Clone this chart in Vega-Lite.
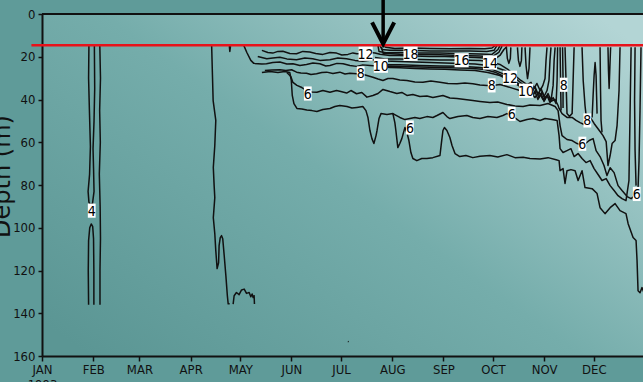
{
  "$schema": "https://vega.github.io/schema/vega-lite/v6.json",
  "width": 601,
  "height": 342,
  "autosize": {"type": "none"},
  "padding": {"left": 42, "top": 14, "right": 0, "bottom": 26},
  "background": "#5f9b99",
  "config": {
    "view": {
      "stroke": null,
      "fill": {"gradient": "linear", "x1": 0, "y1": 0.9, "x2": 1, "y2": 0.1,
        "stops": [{"offset": 0, "color": "#5b9694"}, {"offset": 0.5, "color": "#75adab"}, {"offset": 1, "color": "#b3d5d5"}]}
    }
  },
  "datasets": {
    "iso": [
      {"s":"f1","d":28.4,"z":15},{"s":"f1","d":28.2,"z":30},{"s":"f1","d":28.7,"z":45},{"s":"f1","d":29.3,"z":62},{"s":"f1","d":28.8,"z":75},{"s":"f1","d":27.9,"z":83},{"s":"f1","d":28.4,"z":88},{"s":"f1","d":29.5,"z":89.5},{"s":"f1","d":30.6,"z":88.5},{"s":"f1","d":31.5,"z":83},{"s":"f1","d":31.2,"z":72},{"s":"f1","d":30.9,"z":63},{"s":"f1","d":31.5,"z":50},{"s":"f1","d":31.9,"z":35},{"s":"f1","d":31.7,"z":15},
      {"s":"f2","d":28.2,"z":136},{"s":"f2","d":28.0,"z":120},{"s":"f2","d":28.2,"z":106},{"s":"f2","d":28.9,"z":100},{"s":"f2","d":29.8,"z":98.2},{"s":"f2","d":30.7,"z":99.5},{"s":"f2","d":31.2,"z":105},{"s":"f2","d":31.4,"z":120},{"s":"f2","d":31.4,"z":136},
      {"s":"f3","d":35.0,"z":15},{"s":"f3","d":35.4,"z":30},{"s":"f3","d":34.9,"z":45},{"s":"f3","d":35.3,"z":60},{"s":"f3","d":34.7,"z":75},{"s":"f3","d":35.2,"z":90},{"s":"f3","d":35.4,"z":105},{"s":"f3","d":35.1,"z":120},{"s":"f3","d":35.1,"z":136},
      {"s":"a4","d":102.7,"z":15},{"s":"a4","d":103.1,"z":26.4},{"s":"a4","d":103.6,"z":40.5},{"s":"a4","d":105.2,"z":49.8},{"s":"a4","d":104.6,"z":61.5},{"s":"a4","d":103.7,"z":71.8},{"s":"a4","d":104.2,"z":80.3},{"s":"a4","d":104.6,"z":85.9},{"s":"a4","d":103.7,"z":95.3},{"s":"a4","d":104.6,"z":102.8},{"s":"a4","d":105.2,"z":110.7},{"s":"a4","d":106,"z":119.1},{"s":"a4","d":106.9,"z":116.4},{"s":"a4","d":107.2,"z":108.4},{"s":"a4","d":107.9,"z":104.6},{"s":"a4","d":108.7,"z":103.7},{"s":"a4","d":109.4,"z":105.1},{"s":"a4","d":110.3,"z":113.1},{"s":"a4","d":111.3,"z":122.4},{"s":"a4","d":112.2,"z":131.8},{"s":"a4","d":112.7,"z":135.6},{"s":"a4","d":113.6,"z":135.6},
      {"s":"m5","d":115.7,"z":135.7},{"s":"m5","d":116.3,"z":131.8},{"s":"m5","d":117.7,"z":130.3},{"s":"m5","d":119.3,"z":131.3},{"s":"m5","d":120.8,"z":129.1},{"s":"m5","d":122.4,"z":128.7},{"s":"m5","d":123.8,"z":130.7},{"s":"m5","d":125.4,"z":130.3},{"s":"m5","d":126.4,"z":132.3},{"s":"m5","d":127.2,"z":131},{"s":"m5","d":127.8,"z":132.6},{"s":"m5","d":128.4,"z":131.8},{"s":"m5","d":128.6,"z":135.7},
      {"s":"v6","d":113.4,"z":15},{"s":"v6","d":113.7,"z":17.5},{"s":"v6","d":114.1,"z":15},
      {"s":"dot","d":185.2,"z":153.2},{"s":"dot","d":185.6,"z":153.4},
      {"s":"A","d":133.1,"z":17.0},{"s":"A","d":136.7,"z":18.0},{"s":"A","d":139.7,"z":18.3},{"s":"A","d":142.8,"z":17.5},{"s":"A","d":145.8,"z":17.4},{"s":"A","d":150.0,"z":18.5},{"s":"A","d":154.1,"z":18.6},{"s":"A","d":157.9,"z":17.5},{"s":"A","d":162.1,"z":17.8},{"s":"A","d":165.7,"z":18.5},{"s":"A","d":170.0,"z":18.9},{"s":"A","d":174.3,"z":18.0},{"s":"A","d":178.3,"z":18.3},{"s":"A","d":181.5,"z":19.2},{"s":"A","d":185.2,"z":18.9},{"s":"A","d":188.2,"z":18.2},{"s":"A","d":190.6,"z":18.6},{"s":"A","d":194.2,"z":18.5},{"s":"A","d":198.5,"z":18.0},{"s":"A","d":201.6,"z":18.2},{"s":"A","d":204.6,"z":18.8},{"s":"A","d":210.6,"z":19.4},{"s":"A","d":216.6,"z":19.4},{"s":"A","d":225.7,"z":19.6},{"s":"A","d":234.8,"z":19.9},{"s":"A","d":243.9,"z":19.9},{"s":"A","d":252.9,"z":20.1},{"s":"A","d":262.1,"z":20.3},{"s":"A","d":268.1,"z":20.6},{"s":"A","d":273.6,"z":21.3},{"s":"A","d":277.2,"z":19.4},{"s":"A","d":279.6,"z":16.6},{"s":"A","d":281.4,"z":15.2},
      {"s":"K1","d":206.4,"z":14.8},{"s":"K1","d":208.2,"z":15.6},{"s":"K1","d":213.6,"z":16.1},{"s":"K1","d":222.7,"z":15.9},{"s":"K1","d":234.8,"z":16.1},{"s":"K1","d":246.9,"z":16.3},{"s":"K1","d":259.0,"z":16.1},{"s":"K1","d":268.1,"z":16.3},{"s":"K1","d":272.4,"z":15.9},{"s":"K1","d":274.2,"z":14.8},
      {"s":"K2","d":204.6,"z":14.8},{"s":"K2","d":205.8,"z":16.6},{"s":"K2","d":210.6,"z":17.0},{"s":"K2","d":222.7,"z":17.0},{"s":"K2","d":234.8,"z":17.3},{"s":"K2","d":246.9,"z":17.3},{"s":"K2","d":259.0,"z":17.3},{"s":"K2","d":269.3,"z":17.5},{"s":"K2","d":273.6,"z":17.0},{"s":"K2","d":275.4,"z":14.8},
      {"s":"K3","d":203.4,"z":14.8},{"s":"K3","d":204.0,"z":17.5},{"s":"K3","d":208.2,"z":18.1},{"s":"K3","d":216.6,"z":18.0},{"s":"K3","d":228.7,"z":18.2},{"s":"K3","d":240.9,"z":18.2},{"s":"K3","d":252.9,"z":18.5},{"s":"K3","d":265.1,"z":18.7},{"s":"K3","d":272.4,"z":18.9},{"s":"K3","d":276.0,"z":16.6},{"s":"K3","d":277.2,"z":14.8},
      {"s":"K4","d":205.5,"z":15.5},{"s":"K4","d":206.5,"z":18.4},{"s":"K4","d":216.6,"z":18.8},{"s":"K4","d":228.7,"z":19.0},{"s":"K4","d":240.9,"z":19.1},{"s":"K4","d":252.9,"z":19.4},{"s":"K4","d":265.1,"z":19.6},{"s":"K4","d":272.4,"z":20.1},{"s":"K4","d":276.5,"z":18.0},{"s":"K4","d":278.5,"z":15.0},
      {"s":"K7","d":201.6,"z":20.3},{"s":"K7","d":207.6,"z":21.0},{"s":"K7","d":216.6,"z":21.0},{"s":"K7","d":228.7,"z":21.3},{"s":"K7","d":240.9,"z":21.5},{"s":"K7","d":252.9,"z":21.5},{"s":"K7","d":265.1,"z":21.7},{"s":"K7","d":272.4,"z":22.4},{"s":"K7","d":277.2,"z":23.6},{"s":"K7","d":282.0,"z":25.9},{"s":"K7","d":286.3,"z":28.8},{"s":"K7","d":289.9,"z":31.1},{"s":"K7","d":293.6,"z":33.0},{"s":"K7","d":296.0,"z":32.0},{"s":"K7","d":297.8,"z":34.8},{"s":"K7","d":299.6,"z":32.5},{"s":"K7","d":301.5,"z":35.8},{"s":"K7","d":303.2,"z":33.4},{"s":"K7","d":304.5,"z":30.2},{"s":"K7","d":305.1,"z":21.7},{"s":"K7","d":305.7,"z":15.6},
      {"s":"B","d":130.6,"z":19.9},{"s":"B","d":136.1,"z":20.9},{"s":"B","d":139.7,"z":20.6},{"s":"B","d":144.0,"z":20.2},{"s":"B","d":148.2,"z":21.0},{"s":"B","d":154.1,"z":21.4},{"s":"B","d":159.1,"z":20.6},{"s":"B","d":163.9,"z":20.9},{"s":"B","d":168.2,"z":21.7},{"s":"B","d":174.3,"z":21.4},{"s":"B","d":179.1,"z":20.6},{"s":"B","d":184.4,"z":20.9},{"s":"B","d":189.4,"z":21.7},{"s":"B","d":194.2,"z":22.1},{"s":"B","d":200.3,"z":21.4},{"s":"B","d":207.6,"z":22.0},{"s":"B","d":216.6,"z":22.2},{"s":"B","d":225.7,"z":22.4},{"s":"B","d":234.8,"z":22.7},{"s":"B","d":243.9,"z":22.9},{"s":"B","d":252.9,"z":23.1},{"s":"B","d":262.1,"z":23.4},{"s":"B","d":269.9,"z":24.1},{"s":"B","d":274.8,"z":25.0},{"s":"B","d":280.2,"z":26.4},{"s":"B","d":284.5,"z":28.8},{"s":"B","d":288.1,"z":31.1},{"s":"B","d":291.2,"z":33.0},{"s":"B","d":294.2,"z":33.9},{"s":"B","d":296.6,"z":36.7},{"s":"B","d":298.4,"z":33.9},{"s":"B","d":300.2,"z":37.7},{"s":"B","d":302.1,"z":34.8},{"s":"B","d":303.9,"z":38.6},{"s":"B","d":305.7,"z":35.8},{"s":"B","d":306.9,"z":31.1},{"s":"B","d":307.5,"z":21.7},{"s":"B","d":308.1,"z":15.6},
      {"s":"K5","d":200.9,"z":23.1},{"s":"K5","d":207.6,"z":23.6},{"s":"K5","d":216.6,"z":23.8},{"s":"K5","d":228.7,"z":24.1},{"s":"K5","d":240.9,"z":24.3},{"s":"K5","d":252.9,"z":24.5},{"s":"K5","d":265.1,"z":25.0},{"s":"K5","d":272.4,"z":25.9},{"s":"K5","d":278.5,"z":27.8},{"s":"K5","d":284.5,"z":30.6},{"s":"K5","d":289.3,"z":33.0},{"s":"K5","d":295.4,"z":35.3},{"s":"K5","d":297.2,"z":38.1},{"s":"K5","d":299.0,"z":35.3},{"s":"K5","d":300.8,"z":39.1},{"s":"K5","d":302.7,"z":36.3},{"s":"K5","d":304.5,"z":40.0},{"s":"K5","d":306.3,"z":37.2},{"s":"K5","d":308.1,"z":40.5},{"s":"K5","d":309.4,"z":33.4},{"s":"K5","d":310.0,"z":21.7},{"s":"K5","d":310.6,"z":15.6},
      {"s":"K6","d":203.0,"z":24.4},{"s":"K6","d":210.6,"z":24.3},{"s":"K6","d":222.7,"z":24.7},{"s":"K6","d":234.8,"z":24.9},{"s":"K6","d":246.9,"z":25.1},{"s":"K6","d":259.0,"z":25.4},{"s":"K6","d":268.1,"z":26.0},{"s":"K6","d":274.8,"z":27.4},{"s":"K6","d":281.4,"z":29.8},{"s":"K6","d":287.0,"z":32.5},{"s":"K6","d":291.5,"z":34.3},
      {"s":"C","d":122.2,"z":14.8},{"s":"C","d":124.0,"z":18.0},{"s":"C","d":126.4,"z":21.7},{"s":"C","d":128.2,"z":23.1},{"s":"C","d":133.1,"z":23.4},{"s":"C","d":135.9,"z":23.3},{"s":"C","d":139.7,"z":22.7},{"s":"C","d":144.0,"z":22.5},{"s":"C","d":148.2,"z":23.4},{"s":"C","d":151.9,"z":23.3},{"s":"C","d":156.1,"z":24.1},{"s":"C","d":160.1,"z":23.6},{"s":"C","d":164.0,"z":22.9},{"s":"C","d":168.2,"z":23.3},{"s":"C","d":171.8,"z":24.3},{"s":"C","d":174.3,"z":24.1},{"s":"C","d":178.5,"z":23.1},{"s":"C","d":182.3,"z":23.3},{"s":"C","d":186.4,"z":24.1},{"s":"C","d":190.4,"z":24.5},{"s":"C","d":194.2,"z":23.8},{"s":"C","d":198.5,"z":24.1},{"s":"C","d":204.6,"z":24.5},{"s":"C","d":210.6,"z":25.0},{"s":"C","d":216.6,"z":25.2},{"s":"C","d":225.7,"z":25.5},{"s":"C","d":234.8,"z":25.7},{"s":"C","d":243.9,"z":25.9},{"s":"C","d":252.9,"z":26.2},{"s":"C","d":262.1,"z":26.4},{"s":"C","d":269.9,"z":27.4},{"s":"C","d":277.2,"z":28.8},{"s":"C","d":283.3,"z":31.1},{"s":"C","d":289.3,"z":33.9},{"s":"C","d":294.2,"z":35.3},{"s":"C","d":296.6,"z":38.6},{"s":"C","d":298.4,"z":36.3},{"s":"C","d":300.2,"z":40.0},{"s":"C","d":302.1,"z":37.2},{"s":"C","d":303.9,"z":40.9},{"s":"C","d":305.7,"z":38.1},{"s":"C","d":307.5,"z":41.4},{"s":"C","d":309.4,"z":39.1},{"s":"C","d":311.2,"z":41.9},{"s":"C","d":311.8,"z":31.1},{"s":"C","d":312.1,"z":15.6},
      {"s":"D","d":134.9,"z":26.4},{"s":"D","d":139.1,"z":26.2},{"s":"D","d":144.0,"z":26.1},{"s":"D","d":147.6,"z":26.4},{"s":"D","d":151.1,"z":26.1},{"s":"D","d":154.1,"z":27.2},{"s":"D","d":156.7,"z":27.6},{"s":"D","d":160.1,"z":27.7},{"s":"D","d":162.8,"z":28.3},{"s":"D","d":166.2,"z":28.0},{"s":"D","d":169.4,"z":27.4},{"s":"D","d":172.3,"z":27.2},{"s":"D","d":176.1,"z":27.8},{"s":"D","d":180.3,"z":27.2},{"s":"D","d":183.4,"z":28.1},{"s":"D","d":186.4,"z":27.7},{"s":"D","d":190.4,"z":28.0},{"s":"D","d":193.6,"z":28.1},{"s":"D","d":196.7,"z":28.8},{"s":"D","d":200.3,"z":29.6},{"s":"D","d":203.4,"z":30.4},{"s":"D","d":206.4,"z":31.1},{"s":"D","d":209.4,"z":30.2},{"s":"D","d":212.4,"z":30.2},{"s":"D","d":216.6,"z":30.9},{"s":"D","d":220.9,"z":31.1},{"s":"D","d":225.7,"z":31.8},{"s":"D","d":230.6,"z":31.9},{"s":"D","d":235.4,"z":31.3},{"s":"D","d":240.9,"z":31.9},{"s":"D","d":245.7,"z":32.5},{"s":"D","d":251.2,"z":32.6},{"s":"D","d":256.0,"z":32.3},{"s":"D","d":260.8,"z":32.6},{"s":"D","d":265.1,"z":33.2},{"s":"D","d":269.3,"z":33.4},{"s":"D","d":272.9,"z":33.4},{"s":"D","d":277.2,"z":33.0},{"s":"D","d":281.4,"z":33.9},{"s":"D","d":285.1,"z":34.8},{"s":"D","d":289.3,"z":35.8},{"s":"D","d":292.9,"z":36.3},{"s":"D","d":295.9,"z":36.7},{"s":"D","d":298.4,"z":39.1},{"s":"D","d":300.8,"z":36.7},{"s":"D","d":303.2,"z":40.0},{"s":"D","d":305.7,"z":38.1},{"s":"D","d":308.1,"z":40.9},{"s":"D","d":310.6,"z":40.0},{"s":"D","d":312.4,"z":42.8},{"s":"D","d":313.0,"z":44.2},{"s":"D","d":314.8,"z":46.6},{"s":"D","d":317.8,"z":48.4},{"s":"D","d":320.9,"z":48.4},{"s":"D","d":323.3,"z":49.8},{"s":"D","d":325.7,"z":50.8},{"s":"D","d":328.1,"z":51.7},{"s":"D","d":330.6,"z":49.8},{"s":"D","d":332.4,"z":48.9},{"s":"D","d":334.2,"z":51.2},{"s":"D","d":336.0,"z":53.1},{"s":"D","d":337.8,"z":55.0},{"s":"D","d":339.6,"z":56.9},{"s":"D","d":341.5,"z":59.7},{"s":"D","d":342.6,"z":70.9},{"s":"D","d":343.9,"z":66.2},{"s":"D","d":345.1,"z":60.6},{"s":"D","d":346.9,"z":59.2},{"s":"D","d":348.1,"z":52.2},{"s":"D","d":349.3,"z":35.8},{"s":"D","d":349.9,"z":15.6},
      {"s":"E","d":148.2,"z":27.4},{"s":"E","d":150.6,"z":29.2},{"s":"E","d":151.9,"z":32.0},{"s":"E","d":154.3,"z":33.4},{"s":"E","d":157.3,"z":34.4},{"s":"E","d":160.3,"z":35.8},{"s":"E","d":163.4,"z":36.5},{"s":"E","d":166.4,"z":36.6},{"s":"E","d":170.0,"z":35.8},{"s":"E","d":174.3,"z":36.6},{"s":"E","d":178.3,"z":35.8},{"s":"E","d":180.9,"z":36.3},{"s":"E","d":184.4,"z":37.0},{"s":"E","d":187.0,"z":35.8},{"s":"E","d":190.4,"z":37.3},{"s":"E","d":193.6,"z":36.7},{"s":"E","d":196.7,"z":38.9},{"s":"E","d":200.3,"z":38.1},{"s":"E","d":203.4,"z":37.2},{"s":"E","d":206.4,"z":35.3},{"s":"E","d":210.6,"z":36.3},{"s":"E","d":214.8,"z":37.2},{"s":"E","d":217.8,"z":36.7},{"s":"E","d":220.9,"z":38.1},{"s":"E","d":224.5,"z":37.7},{"s":"E","d":228.7,"z":38.6},{"s":"E","d":233.0,"z":38.4},{"s":"E","d":236.6,"z":39.1},{"s":"E","d":239.7,"z":38.6},{"s":"E","d":242.7,"z":38.1},{"s":"E","d":246.9,"z":39.3},{"s":"E","d":251.2,"z":39.5},{"s":"E","d":256.0,"z":40.0},{"s":"E","d":260.8,"z":40.5},{"s":"E","d":265.1,"z":40.9},{"s":"E","d":271.1,"z":41.4},{"s":"E","d":275.9,"z":41.2},{"s":"E","d":281.4,"z":42.3},{"s":"E","d":286.3,"z":43.0},{"s":"E","d":291.2,"z":43.3},{"s":"E","d":295.4,"z":42.6},{"s":"E","d":301.5,"z":42.8},{"s":"E","d":306.3,"z":41.9},{"s":"E","d":310.6,"z":43.3},{"s":"E","d":312.4,"z":45.2},{"s":"E","d":313.6,"z":52.2},{"s":"E","d":314.8,"z":56.9},{"s":"E","d":317.8,"z":58.7},{"s":"E","d":320.9,"z":59.2},{"s":"E","d":323.9,"z":60.6},{"s":"E","d":327.6,"z":61.5},{"s":"E","d":331.2,"z":59.2},{"s":"E","d":333.6,"z":58.3},{"s":"E","d":335.4,"z":63.9},{"s":"E","d":337.8,"z":66.7},{"s":"E","d":340.2,"z":70.9},{"s":"E","d":342.0,"z":75.6},{"s":"E","d":343.9,"z":71.9},{"s":"E","d":346.3,"z":74.2},{"s":"E","d":348.7,"z":80.3},{"s":"E","d":351.1,"z":82.6},{"s":"E","d":354.2,"z":85.4},{"s":"E","d":356.6,"z":86.4},{"s":"E","d":359.0,"z":85.0},{"s":"E","d":360.8,"z":81.7},{"s":"E","d":361.4,"z":68.6},{"s":"E","d":362.0,"z":45.2},{"s":"E","d":362.6,"z":15.6},
      {"s":"G","d":212.4,"z":46.6},{"s":"G","d":216.6,"z":48.4},{"s":"G","d":219.7,"z":49.4},{"s":"G","d":222.7,"z":48.9},{"s":"G","d":225.7,"z":48.4},{"s":"G","d":228.7,"z":48.9},{"s":"G","d":233.0,"z":48.0},{"s":"G","d":236.6,"z":48.4},{"s":"G","d":239.1,"z":47.5},{"s":"G","d":242.7,"z":46.1},{"s":"G","d":245.1,"z":48.0},{"s":"G","d":246.9,"z":48.9},{"s":"G","d":251.8,"z":48.0},{"s":"G","d":257.2,"z":47.5},{"s":"G","d":260.8,"z":48.4},{"s":"G","d":265.1,"z":48.9},{"s":"G","d":269.9,"z":48.0},{"s":"G","d":275.4,"z":48.4},{"s":"G","d":279.0,"z":47.5},{"s":"G","d":281.4,"z":46.6},{"s":"G","d":284.5,"z":47.5},{"s":"G","d":289.3,"z":50.3},{"s":"G","d":293.6,"z":49.4},{"s":"G","d":297.2,"z":48.9},{"s":"G","d":301.5,"z":49.8},{"s":"G","d":304.5,"z":48.9},{"s":"G","d":308.7,"z":49.4},{"s":"G","d":311.8,"z":49.8},{"s":"G","d":313.0,"z":56.9},{"s":"G","d":313.6,"z":63.0},{"s":"G","d":315.4,"z":64.8},{"s":"G","d":317.8,"z":63.9},{"s":"G","d":320.2,"z":63.0},{"s":"G","d":322.1,"z":66.7},{"s":"G","d":324.5,"z":65.3},{"s":"G","d":326.9,"z":67.6},{"s":"G","d":329.3,"z":69.5},{"s":"G","d":331.8,"z":68.6},{"s":"G","d":334.2,"z":72.3},{"s":"G","d":336.6,"z":75.1},{"s":"G","d":339.0,"z":77.9},{"s":"G","d":341.5,"z":77.0},{"s":"G","d":343.9,"z":80.3},{"s":"G","d":346.3,"z":82.6},{"s":"G","d":348.7,"z":85.0},{"s":"G","d":351.1,"z":86.4},{"s":"G","d":353.5,"z":87.3},{"s":"G","d":355.3,"z":77.9},{"s":"G","d":355.9,"z":49.8},{"s":"G","d":356.6,"z":15.6},
      {"s":"F","d":133.1,"z":27.4},{"s":"F","d":138.1,"z":26.9},{"s":"F","d":142.8,"z":27.4},{"s":"F","d":147.0,"z":26.9},{"s":"F","d":150.0,"z":27.4},{"s":"F","d":150.9,"z":31.1},{"s":"F","d":151.5,"z":38.1},{"s":"F","d":152.5,"z":41.9},{"s":"F","d":154.3,"z":44.2},{"s":"F","d":157.3,"z":44.4},{"s":"F","d":160.3,"z":44.9},{"s":"F","d":163.4,"z":45.2},{"s":"F","d":166.4,"z":45.6},{"s":"F","d":170.0,"z":44.7},{"s":"F","d":174.3,"z":44.2},{"s":"F","d":177.3,"z":43.3},{"s":"F","d":180.3,"z":42.8},{"s":"F","d":184.6,"z":43.3},{"s":"F","d":187.6,"z":44.0},{"s":"F","d":190.6,"z":43.7},{"s":"F","d":194.2,"z":43.3},{"s":"F","d":196.1,"z":45.2},{"s":"F","d":197.3,"z":48.4},{"s":"F","d":198.5,"z":54.5},{"s":"F","d":199.7,"z":58.3},{"s":"F","d":200.9,"z":60.6},{"s":"F","d":202.2,"z":56.9},{"s":"F","d":202.8,"z":54.5},{"s":"F","d":204.0,"z":48.9},{"s":"F","d":205.2,"z":46.6},{"s":"F","d":208.8,"z":47.0},{"s":"F","d":212.4,"z":46.6},{"s":"F","d":213.6,"z":50.8},{"s":"F","d":214.2,"z":54.5},{"s":"F","d":215.4,"z":62.5},{"s":"F","d":216.6,"z":60.6},{"s":"F","d":217.8,"z":58.3},{"s":"F","d":219.7,"z":53.1},{"s":"F","d":220.9,"z":55.5},{"s":"F","d":222.1,"z":59.2},{"s":"F","d":223.3,"z":64.8},{"s":"F","d":224.5,"z":67.6},{"s":"F","d":226.9,"z":68.6},{"s":"F","d":229.9,"z":67.6},{"s":"F","d":233.0,"z":67.6},{"s":"F","d":236.6,"z":67.2},{"s":"F","d":240.9,"z":66.2},{"s":"F","d":241.8,"z":60.2},{"s":"F","d":242.7,"z":54.5},{"s":"F","d":243.6,"z":53.1},{"s":"F","d":245.1,"z":54.5},{"s":"F","d":246.9,"z":57.8},{"s":"F","d":248.2,"z":61.5},{"s":"F","d":250.0,"z":65.3},{"s":"F","d":252.9,"z":66.7},{"s":"F","d":256.6,"z":66.2},{"s":"F","d":260.8,"z":67.2},{"s":"F","d":265.1,"z":66.5},{"s":"F","d":271.1,"z":66.2},{"s":"F","d":275.9,"z":66.9},{"s":"F","d":281.4,"z":65.8},{"s":"F","d":286.3,"z":67.2},{"s":"F","d":291.2,"z":67.0},{"s":"F","d":295.4,"z":67.6},{"s":"F","d":301.5,"z":67.8},{"s":"F","d":306.3,"z":67.2},{"s":"F","d":311.2,"z":68.2},{"s":"F","d":313.0,"z":68.6},{"s":"F","d":313.6,"z":73.3},{"s":"F","d":315.4,"z":72.3},{"s":"F","d":316.6,"z":79.3},{"s":"F","d":317.8,"z":73.3},{"s":"F","d":320.2,"z":72.8},{"s":"F","d":322.7,"z":73.3},{"s":"F","d":324.5,"z":77.9},{"s":"F","d":326.9,"z":73.3},{"s":"F","d":328.7,"z":81.2},{"s":"F","d":333.0,"z":81.7},{"s":"F","d":336.0,"z":84.0},{"s":"F","d":337.8,"z":90.6},{"s":"F","d":340.8,"z":93.4},{"s":"F","d":343.9,"z":90.6},{"s":"F","d":346.9,"z":88.7},{"s":"F","d":349.9,"z":92.0},{"s":"F","d":353.5,"z":93.4},{"s":"F","d":354.8,"z":98.1},{"s":"F","d":357.8,"z":104.6},{"s":"F","d":359.6,"z":106.0},{"s":"F","d":360.2,"z":115.4},{"s":"F","d":360.8,"z":129.5},{"s":"F","d":362.0,"z":130.4},{"s":"F","d":363.2,"z":128.0},{"s":"F","d":364.4,"z":130.4},
      {"s":"u1","d":281.1,"z":15.6},{"s":"u1","d":281.7,"z":20.8},{"s":"u1","d":282.6,"z":23.1},{"s":"u1","d":283.5,"z":20.8},{"s":"u1","d":283.8,"z":15.6},
      {"s":"u2","d":287.8,"z":15.6},{"s":"u2","d":288.4,"z":21.7},{"s":"u2","d":289.3,"z":24.5},{"s":"u2","d":290.2,"z":21.7},{"s":"u2","d":290.5,"z":15.6},
      {"s":"u3","d":292.4,"z":15.6},{"s":"u3","d":293.0,"z":24.1},{"s":"u3","d":293.9,"z":30.2},{"s":"u3","d":294.8,"z":25.5},{"s":"u3","d":295.4,"z":15.6},
      {"s":"fr1","d":313.6,"z":15.6},{"s":"fr1","d":313.9,"z":31.1},{"s":"fr1","d":314.2,"z":45.2},
      {"s":"fr2","d":315.1,"z":15.6},{"s":"fr2","d":315.4,"z":30},{"s":"fr2","d":315.4,"z":44},
      {"s":"u4","d":316.6,"z":15.6},{"s":"u4","d":317.2,"z":31.1},{"s":"u4","d":317.8,"z":46.6},{"s":"u4","d":319.3,"z":47.9},{"s":"u4","d":320.9,"z":46.6},{"s":"u4","d":321.5,"z":31.1},{"s":"u4","d":322.1,"z":15.6},
      {"s":"s1","d":326.9,"z":15.6},{"s":"s1","d":327.6,"z":31.1},{"s":"s1","d":328.7,"z":42.8},{"s":"s1","d":329.3,"z":47.0},
      {"s":"hk","d":333.0,"z":48.4},{"s":"hk","d":333.6,"z":38.1},{"s":"hk","d":334.2,"z":28.8},{"s":"hk","d":334.8,"z":22.7},{"s":"hk","d":335.4,"z":28.8},{"s":"hk","d":335.7,"z":38.1},{"s":"hk","d":336.0,"z":46.6},
      {"s":"s2","d":337.8,"z":15.6},{"s":"s2","d":338.1,"z":35.8},{"s":"s2","d":338.4,"z":49.8},{"s":"s2","d":339.0,"z":55.4},
      {"s":"s3","d":342.6,"z":15.6},{"s":"s3","d":342.9,"z":26.4},{"s":"s3","d":343.3,"z":34.8},{"s":"s3","d":343.9,"z":21.7},{"s":"s3","d":344.2,"z":15.6},
      {"s":"s4","d":359.0,"z":15.6},{"s":"s4","d":358.7,"z":40.5},{"s":"s4","d":359.0,"z":63.9},{"s":"s4","d":359.6,"z":80.3}
    ],
    "labels": [
      {"t":"4","d":30.1,"z":92.0},
      {"t":"6","d":160.9,"z":37.2},
      {"t":"8","d":192.9,"z":27.8},
      {"t":"12","d":195.9,"z":18.6},
      {"t":"10","d":205.1,"z":24.2},
      {"t":"18","d":223.1,"z":18.6},
      {"t":"16","d":254.0,"z":21.6},
      {"t":"14","d":271.2,"z":22.7},
      {"t":"8","d":272.2,"z":33.4},
      {"t":"12","d":283.3,"z":29.8},
      {"t":"10","d":293.0,"z":35.9},
      {"t":"6","d":222.7,"z":53.1},
      {"t":"6","d":284.3,"z":46.7},
      {"t":"8","d":315.8,"z":33.1},
      {"t":"8","d":330.1,"z":49.8},
      {"t":"6","d":327.1,"z":60.7},
      {"t":"6","d":360.0,"z":84.2}
    ]
  },
  "encoding": {
    "x": {
      "field": "d", "type": "quantitative",
      "scale": {"domain": [0, 363.8], "nice": false, "zero": false},
      "axis": {
        "values": [0, 31, 59, 90, 120, 151, 181, 212, 243, 273, 304, 334],
        "labelExpr": "datum.value == 0 ? ['JAN', '1993'] : ['FEB','MAR','APR','MAY','JUN','JUL','AUG','SEP','OCT','NOV','DEC'][indexof([31,59,90,120,151,181,212,243,273,304,334], datum.value)]",
        "title": null, "grid": false,
        "domainColor": "#111", "domainWidth": 2,
        "tickColor": "#111", "tickWidth": 1.5, "tickSize": 5,
        "labelFont": "Liberation Sans Narrow, Arial Narrow, DejaVu Sans Condensed, sans-serif",
        "labelFontSize": 13, "labelColor": "#111", "labelPadding": 2, "labelLineHeight": 15,
        "labelFlush": false, "labelOverlap": false
      }
    },
    "y": {
      "field": "z", "type": "quantitative",
      "scale": {"domain": [0, 160], "reverse": true, "nice": false, "zero": false},
      "axis": {
        "values": [0, 20, 40, 60, 80, 100, 120, 140, 160],
        "title": "Depth (m)", "grid": false,
        "domainColor": "#111", "domainWidth": 2,
        "tickColor": "#111", "tickWidth": 1.5, "tickSize": 4,
        "labelFont": "Liberation Sans Narrow, Arial Narrow, DejaVu Sans Condensed, sans-serif",
        "labelFontSize": 13, "labelColor": "#111", "labelPadding": 3,
        "labelFlush": false, "labelOverlap": false,
        "titleFont": "DejaVu Sans", "titleFontSize": 24, "titleFontWeight": "normal",
        "titleColor": "#111", "titleX": -28, "titleY": 162, "titleBaseline": "bottom", "titleAngle": -90
      }
    }
  },
  "layer": [
    {
      "data": {"name": "iso"},
      "mark": {"type": "line", "color": "#111", "strokeWidth": 1.5, "strokeJoin": "round"},
      "encoding": {
        "detail": {"field": "s"},
        "order": {"value": null}
      }
    },
    {
      "data": {"values": [{"d": 0, "d2": 363.8, "z": 0}]},
      "mark": {"type": "rule", "color": "#111", "strokeWidth": 2},
      "encoding": {"x2": {"field": "d2"}}
    },
    {
      "data": {"values": [{"d": -6.4, "d2": 366, "z": 14.6}]},
      "mark": {"type": "rule", "color": "#e8121a", "strokeWidth": 2.6},
      "encoding": {"x2": {"field": "d2"}}
    },
    {
      "data": {"name": "labels"},
      "mark": {"type": "point", "filled": true, "fill": "white", "opacity": 1, "strokeWidth": 0, "size": 200},
      "encoding": {
        "shape": {"condition": {"test": "length(datum.t) > 1", "value": "square"}, "value": "M-0.55,-1H0.55V1H-0.55Z"}
      }
    },
    {
      "data": {"name": "labels"},
      "mark": {"type": "text", "font": "Liberation Sans Narrow, Arial Narrow, DejaVu Sans Condensed, sans-serif", "fontSize": 14, "color": "#000", "align": "center", "baseline": "middle", "dy": 1},
      "encoding": {"text": {"field": "t"}}
    },
    {
      "data": {"values": [{"d": 206.5, "z": -7, "z2": 13.6}]},
      "mark": {"type": "rule", "color": "#000", "strokeWidth": 3.5},
      "encoding": {"y2": {"field": "z2"}}
    },
    {
      "data": {"values": [{"d": 199.8, "z": 3.9}, {"d": 206.5, "z": 14.0}, {"d": 213.2, "z": 3.9}]},
      "mark": {"type": "line", "color": "#000", "strokeWidth": 4, "strokeJoin": "miter", "strokeCap": "butt"},
      "encoding": {"order": {"value": null}}
    }
  ]
}
